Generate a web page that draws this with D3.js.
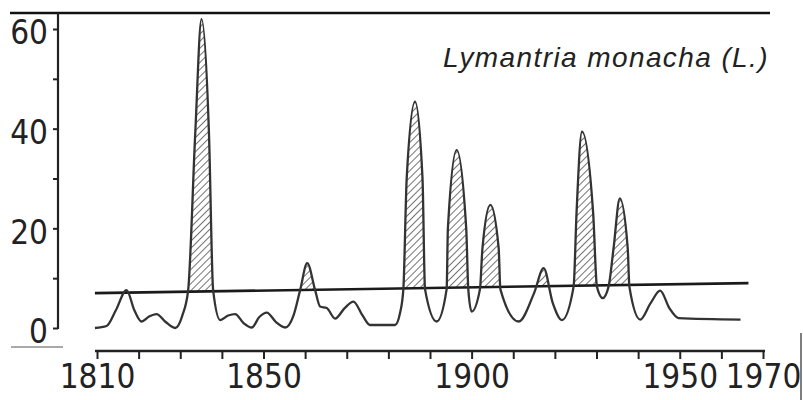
<!DOCTYPE html>
<html>
<head>
<meta charset="utf-8">
<script src="https://cdn.jsdelivr.net/npm/d3@7"></script>
<style>
  body { margin: 0; background: #fff; }
  svg { display: block; }
</style>
</head>
<body>
<script>
// data: years and population index of Lymantria monacha
var years = [1809.5, 1812.3, 1814.5, 1817.1, 1819.0, 1820.7, 1822.5, 1824.3, 1826.5, 1828.8,
    1830.5, 1831.9, 1833.6, 1835.1, 1836.9, 1837.9, 1839.6, 1841.5, 1843.2, 1845.2,
    1847.2, 1849.0, 1850.8, 1853.0, 1855.2, 1857.2, 1858.8, 1860.5, 1862.4, 1863.6,
    1865.2, 1867.2, 1869.5, 1871.6, 1873.8, 1875.6, 1881.6, 1882.8, 1883.6, 1884.4,
    1886.4, 1888.2, 1888.8, 1891.6, 1894.0, 1894.3, 1896.4, 1898.7, 1899.2, 1900.0,
    1902.0, 1902.6, 1904.5, 1906.5, 1906.9, 1911.3, 1915.0, 1917.3, 1919.5, 1921.7,
    1924.5, 1925.2, 1926.5, 1929.2, 1930.1, 1931.5, 1932.9, 1934.1, 1935.6, 1937.5,
    1937.9, 1940.5, 1943.0, 1945.3, 1947.5, 1949.7, 1964.6];
var values = [0.0, 0.4, 3.5, 7.6, 3.5, 1.3, 2.3, 2.8, 1.2, 0.0,
    2.5, 7.6, 39, 62, 39, 7.6, 1.6, 2.5, 2.8, 1.0,
    0.1, 2.2, 3.1, 1.2, 0.1, 2.5, 7.6, 13, 7.6, 4.3,
    4.0, 1.9, 4.0, 5.3, 2.5, 0.6, 0.6, 3.0, 7.8, 30,
    45.4, 30, 7.8, 1.3, 7.8, 20, 35.7, 20, 7.8, 3.3,
    7.8, 16, 24.7, 16, 7.8, 1.3, 7.0, 12, 5.0, 1.6,
    8.3, 23, 39.4, 23, 8.3, 6.0, 8.3, 16, 26, 16,
    8.3, 1.7, 5.0, 7.5, 4.0, 2.0, 1.7];

// sloping threshold line
var thrYears = [1809.5, 1966.5];
var thrValues = [7.0, 9.0];

// tick labels
var yTicks = [0, 10, 20, 30, 40, 50, 60];
var yLabels = [0, 20, 40, 60];
var xTicks = d3.range(1810, 1971, 10);
var xLabels = [1810, 1850, 1900, 1950, 1970];
var title = "Lymantria monacha (L.)";

var width = 803, height = 400;

var x = d3.scaleLinear().domain([1810, 1970]).range([97, 763]);
var y = d3.scaleLinear().domain([0, 60]).range([328, 29]);

var svg = d3.select("body").append("svg")
    .attr("width", width)
    .attr("height", height);

svg.append("rect").attr("width", width).attr("height", height).attr("fill", "#fff");

var labelFont = "'Liberation Sans Narrow', 'DejaVu Sans Condensed', sans-serif";

// hatch pattern for the outbreak areas
var defs = svg.append("defs");
defs.append("pattern")
    .attr("id", "hatch")
    .attr("patternUnits", "userSpaceOnUse")
    .attr("width", 5)
    .attr("height", 5)
    .attr("patternTransform", "rotate(45)")
    .append("line")
    .attr("x1", 0).attr("y1", 0)
    .attr("x2", 0).attr("y2", 5)
    .attr("stroke", "#5a5a5a")
    .attr("stroke-width", 1.7);

// clip: everything above the threshold line
defs.append("clipPath")
    .attr("id", "above")
    .append("polygon")
    .attr("points", [
        [x(thrYears[0]), y(thrValues[0])],
        [x(thrYears[1]), y(thrValues[1])],
        [x(thrYears[1]), 0],
        [x(thrYears[0]), 0]
    ].join(" "));

var data = years.map(function (d, i) {
    return { year: d, value: values[i] };
});

var area = d3.area()
    .x(function (d) { return x(d.year); })
    .y0(y(0))
    .y1(function (d) { return y(d.value); })
    .curve(d3.curveMonotoneX);

var line = d3.line()
    .x(function (d) { return x(d.year); })
    .y(function (d) { return y(d.value); })
    .curve(d3.curveMonotoneX);

svg.append("path")
    .datum(data)
    .attr("clip-path", "url(#above)")
    .attr("fill", "url(#hatch)")
    .attr("d", area);

// threshold line
svg.append("line")
    .attr("x1", x(thrYears[0])).attr("y1", y(thrValues[0]))
    .attr("x2", x(thrYears[1])).attr("y2", y(thrValues[1]))
    .attr("stroke", "#1a1a1a")
    .attr("stroke-width", 2.6);

svg.append("path")
    .datum(data)
    .attr("fill", "none")
    .attr("stroke", "#333")
    .attr("stroke-width", 2.3)
    .attr("stroke-linejoin", "round")
    .attr("d", line);

// frame line on top
svg.append("line")
    .attr("x1", 10).attr("y1", 13).attr("x2", 770).attr("y2", 13)
    .attr("stroke", "#111").attr("stroke-width", 2.5);

// y axis
var yAxis = svg.append("g")
    .attr("transform", "translate(58,0)")
    .call(d3.axisLeft(y).tickValues(yTicks).tickSize(5).tickPadding(5)
        .tickFormat(function (d) { return yLabels.indexOf(d) >= 0 ? d : ""; }));
yAxis.select(".domain").remove();
yAxis.selectAll("line").attr("stroke", "#222").attr("stroke-width", 2);
yAxis.selectAll("text")
    .attr("font-family", labelFont)
    .attr("font-size", 33)
    .attr("fill", "#222")
    .attr("dy", "0.45em");
yAxis.append("line")
    .attr("x1", 0).attr("y1", 13).attr("x2", 0).attr("y2", y(0) + 1)
    .attr("stroke", "#222").attr("stroke-width", 2.2);

// x axis
var xAxis = svg.append("g")
    .attr("transform", "translate(0,351)")
    .call(d3.axisBottom(x).tickValues(xTicks).tickSize(8).tickPadding(6)
        .tickFormat(function (d) { return xLabels.indexOf(d) >= 0 ? d : ""; }));
xAxis.select(".domain")
    .attr("d", "M" + (x(1810) - 2) + ",0H" + (x(1970) + 2))
    .attr("stroke", "#222").attr("stroke-width", 2.4);
xAxis.selectAll("line").attr("stroke", "#222").attr("stroke-width", 2);
xAxis.selectAll("text")
    .attr("font-family", labelFont)
    .attr("font-size", 33)
    .attr("fill", "#222");

// scan edges
svg.append("line")
    .attr("x1", 11).attr("y1", 347).attr("x2", 63).attr("y2", 347)
    .attr("stroke", "#555").attr("stroke-width", 1.2);
svg.append("line")
    .attr("x1", 801).attr("y1", 333).attr("x2", 801).attr("y2", 400)
    .attr("stroke", "#555").attr("stroke-width", 1.5);

// title
svg.append("text")
    .attr("x", 443)
    .attr("y", 67)
    .attr("font-family", "'Liberation Sans', 'DejaVu Sans', sans-serif")
    .attr("font-style", "italic")
    .attr("font-size", 28)
    .attr("letter-spacing", 1.4)
    .attr("fill", "#222")
    .text(title);
</script>
</body>
</html>
